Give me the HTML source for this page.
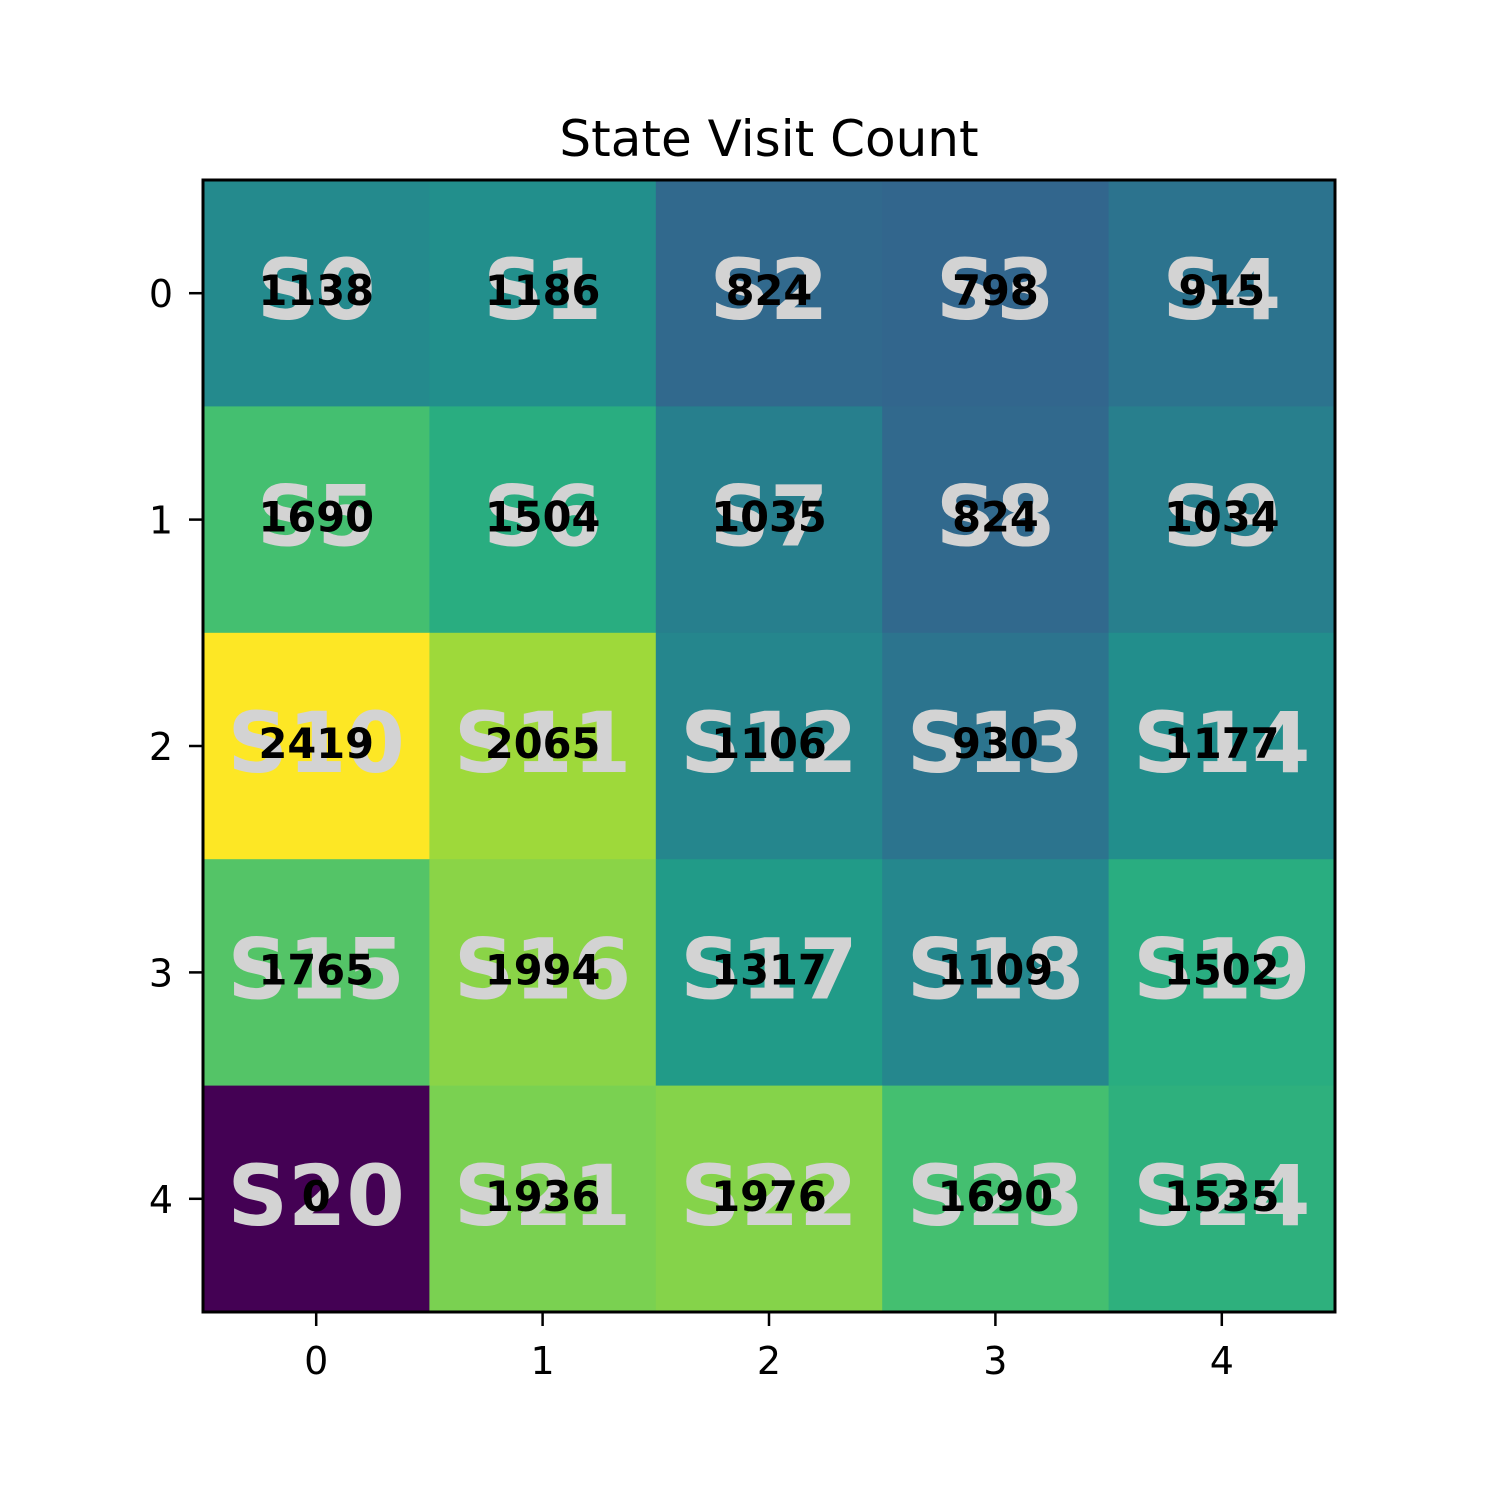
<!DOCTYPE html>
<html><head><meta charset="utf-8"><style>html,body{margin:0;padding:0;background:#fff}svg{display:block}</style></head>
<body>
<svg id="chart" width="1500" height="1500" viewBox="0 0 1500 1500" xmlns="http://www.w3.org/2000/svg" font-family="DejaVu Sans, Liberation Sans, sans-serif">
<rect width="1500" height="1500" fill="#fff"/>
<text x="769" y="156" font-size="50" text-anchor="middle">State Visit Count</text>
<g id="cells"></g>
<g id="labels"></g>
<rect x="203" y="180" width="1132" height="1132" fill="none" stroke="#000" stroke-width="3"/>
<g id="ticks"></g>
</svg>
<script>
const rowLabels = ["0","1","2","3","4"];
const colLabels = ["0","1","2","3","4"];
const counts = [
 [1138,1186,824,798,915],
 [1690,1504,1035,824,1034],
 [2419,2065,1106,930,1177],
 [1765,1994,1317,1109,1502],
 [0,1936,1976,1690,1535]
];
const vmin = 0, vmax = 2419;
const L=203,T=180,W=1132,H=1132,n=5,cw=W/n,ch=H/n;
const xc=j=>L+cw*(j+0.5), yc=i=>T+ch*(i+0.5);
const vir=["#440154","#482475","#414487","#355f8d","#2a788e","#21918c","#22a884","#44bf70","#7ad151","#bddf26","#fde725"];
function hex(h){return [1,3,5].map(k=>parseInt(h.substr(k,2),16));}
function cmap(v){let t=Math.max(0,Math.min(1,(v-vmin)/(vmax-vmin)))*10;let k=Math.min(9,Math.floor(t));let f=t-k;
 const a=hex(vir[k]),b=hex(vir[k+1]);return "rgb("+a.map((x,m)=>Math.round(x+(b[m]-x)*f)).join(",")+")";}
const NS="http://www.w3.org/2000/svg";
function mk(tag,attrs,parent,txt){const e=document.createElementNS(NS,tag);for(const k in attrs)e.setAttribute(k,attrs[k]);if(txt!==undefined)e.textContent=txt;parent.appendChild(e);return e;}
const gc=document.getElementById("cells"),gl=document.getElementById("labels"),gt=document.getElementById("ticks");
counts.forEach((row,i)=>row.forEach((v,j)=>{
 const r=mk("rect",{x:L+cw*j,y:T+ch*i,width:cw+0.5,height:ch+0.5,fill:cmap(v)},gc);
 
 
 const s=mk("text",{x:xc(j),y:yc(i)+26,"font-size":84,"font-weight":"bold",fill:"#d3d3d3","text-anchor":"middle"},gl,"S"+(i*n+j));
 
 
 const c=mk("text",{x:xc(j),y:yc(i)+12,"font-size":41.5,"font-weight":"bold",fill:"#000","text-anchor":"middle"},gl,String(v));
 
 
}));
colLabels.forEach((lab,j)=>{
 const l=mk("line",{x1:xc(j),x2:xc(j),y1:T+H,y2:T+H+14,stroke:"#000","stroke-width":2.5},gt);
 
 
 const t=mk("text",{x:xc(j),y:T+H+62,"font-size":38,"text-anchor":"middle"},gt,lab);
 
 
});
rowLabels.forEach((lab,i)=>{
 const l=mk("line",{x1:L-14,x2:L,y1:yc(i),y2:yc(i),stroke:"#000","stroke-width":2.5},gt);
 
 
 const t=mk("text",{x:L-30,y:yc(i)+14,"font-size":38,"text-anchor":"end"},gt,lab);
 
 
});
</script>
</body></html>
